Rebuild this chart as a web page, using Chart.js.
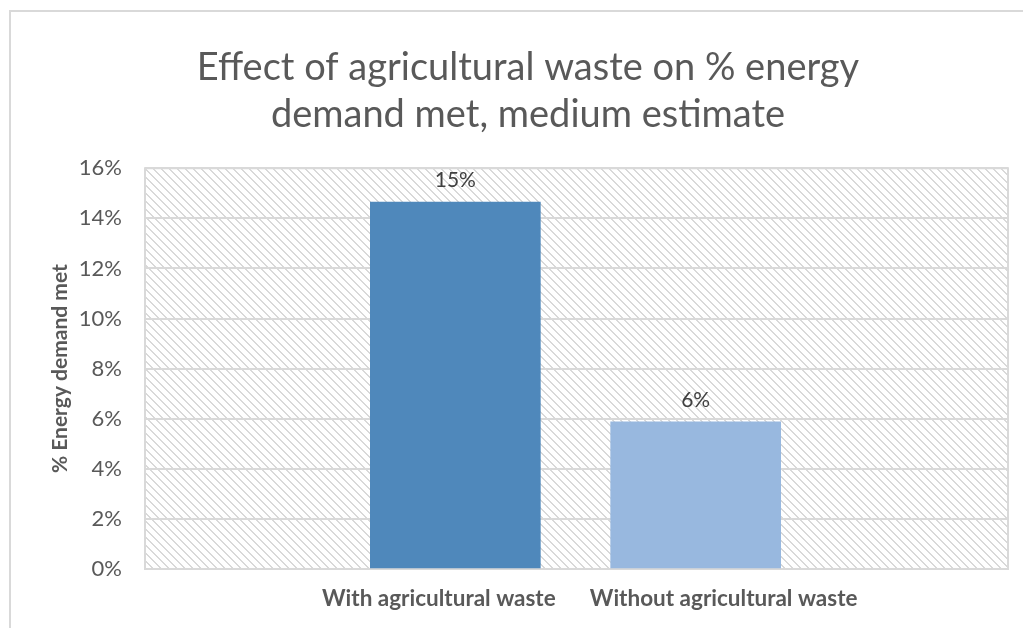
<!DOCTYPE html>
<html>
<head>
<meta charset="utf-8">
<script src="https://cdn.jsdelivr.net/npm/chart.js@4.4.0/dist/chart.umd.min.js"></script>
<style>
  html, body { margin: 0; padding: 0; background: #fff; }
  #wrap { position: relative; width: 1023px; height: 628px; overflow: hidden; }
  #frame { position: absolute; left: 9px; top: 10px; width: 1100px; height: 700px;
           border-left: 2px solid #d9d9d9; border-top: 2px solid #d9d9d9; }
  #myChart { position: absolute; left: 0; top: 0; }
</style>
</head>
<body>
<div id="wrap">
  <div id="frame"></div>
  <canvas id="myChart" width="1023" height="628"></canvas>
</div>
<script>
// data
var categories = ['With agricultural waste', 'Without agricultural waste'];
var energyMet = [14.65, 5.88];          // % of energy demand met
var yTicks = [0, 2, 4, 6, 8, 10, 12, 14, 16];
var barColors = ['#4f88bb', '#98b8df'];

// where the bars and their labels sit along the (hidden) 0-100 x range
var barSlots = [35.96, 63.81];
var labelSlots = [34.05, 67.05];

var ctx = document.querySelector('#myChart').getContext('2d');

// diagonal hatch for the plot background
function makeHatch() {
  var c = document.createElement('canvas');
  c.width = 8; c.height = 8;
  var g = c.getContext('2d');
  g.fillStyle = '#ffffff';
  g.fillRect(0, 0, 8, 8);
  g.fillStyle = '#d9d9d9';
  for (var i = 0; i < 8; i++) {
    g.fillRect(i, i, 1, 1);
    g.fillRect((i + 1) % 8, i, 1, 1);
  }
  return ctx.createPattern(c, 'repeat');
}
var hatch = makeHatch();

var plotArea = {
  id: 'plotArea',
  beforeDraw: function (chart) {
    var a = chart.chartArea, c = chart.ctx;
    c.save();
    c.fillStyle = hatch;
    c.fillRect(a.left, a.top, a.right - a.left, a.bottom - a.top);
    c.restore();
  },
  beforeDatasetsDraw: function (chart) {
    var a = chart.chartArea, c = chart.ctx;
    c.save();
    c.strokeStyle = '#d9d9d9';
    c.lineWidth = 2;
    c.strokeRect(a.left, a.top, a.right - a.left, a.bottom - a.top);
    c.restore();
  }
};

var valueLabels = {
  id: 'valueLabels',
  afterDatasetsDraw: function (chart) {
    var c = chart.ctx;
    var meta = chart.getDatasetMeta(0);
    c.save();
    c.font = '21px Lato';
    c.fillStyle = '#404040';
    c.textAlign = 'center';
    c.textBaseline = 'bottom';
    meta.data.forEach(function (bar, i) {
      c.fillText(Math.round(energyMet[i]) + '%', bar.x, bar.y - 11);
    });
    c.restore();
  }
};

var myChart = new Chart(ctx, {
  type: 'bar',
  data: {
    datasets: [{
      label: '% Energy demand met',
      data: energyMet.map(function (v, i) { return { x: barSlots[i], y: v }; }),
      backgroundColor: barColors,
      barThickness: 170
    }]
  },
  options: {
    responsive: false,
    animation: false,
    layout: {
      autoPadding: false,
      padding: { top: 44, left: 48, right: 15, bottom: 8 }
    },
    plugins: {
      legend: { display: false },
      tooltip: { enabled: false },
      title: {
        display: true,
        text: ['Effect of agricultural waste on % energy', 'demand met, medium estimate'],
        color: '#595959',
        font: { family: 'Lato', size: 38, weight: 'normal', lineHeight: 1.24 },
        padding: { top: 0, bottom: 30 }
      }
    },
    scales: {
      x: {
        type: 'linear',
        min: 0,
        max: 100,
        offset: false,
        bounds: 'data',
        afterBuildTicks: function (axis) {
          axis.ticks = labelSlots.map(function (v) { return { value: v }; });
        },
        ticks: {
          autoSkip: false,
          maxRotation: 0,
          padding: 8,
          color: '#595959',
          font: { family: 'Lato', size: 22.5, weight: 'bold' },
          callback: function (value, index) { return categories[index]; }
        },
        grid: { display: false, offset: false },
        border: { display: false }
      },
      y: {
        min: 0,
        max: 16,
        afterBuildTicks: function (axis) {
          axis.ticks = yTicks.map(function (v) { return { value: v }; });
        },
        afterFit: function (axis) {
          axis.width = 97;
        },
        ticks: {
          padding: 23,
          color: '#595959',
          font: { family: 'Lato', size: 22 },
          callback: function (value) { return value + '%'; }
        },
        grid: { color: '#d9d9d9', lineWidth: 2, drawTicks: false },
        border: { display: false },
        title: {
          display: true,
          text: '% Energy demand met',
          color: '#595959',
          font: { family: 'Lato', size: 21, weight: 'bold' },
          padding: { top: 0, bottom: 8 }
        }
      }
    }
  },
  plugins: [plotArea, valueLabels]
});
</script>
</body>
</html>
